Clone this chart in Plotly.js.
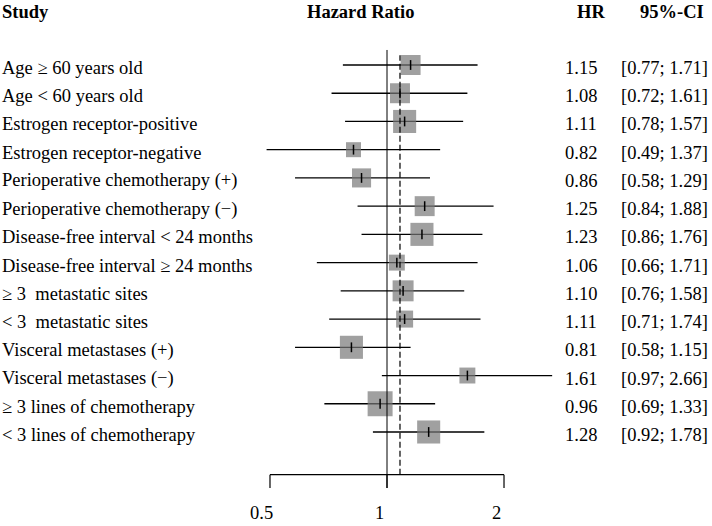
<!DOCTYPE html>
<html>
<head>
<meta charset="utf-8">
<script src="https://cdn.plot.ly/plotly-3.0.1.min.js"></script>
<style>
  html, body { margin: 0; padding: 0; background: #fff; }
  #chart { width: 712px; height: 526px; }
</style>
</head>
<body>
<div id="chart"></div>
<script>
// subgroups, top to bottom
var studies = [
  'Age \u2265 60 years old',
  'Age &lt; 60 years old',
  'Estrogen receptor-positive',
  'Estrogen receptor-negative',
  'Perioperative chemotherapy (+)',
  'Perioperative chemotherapy (\u2212)',
  'Disease-free interval &lt; 24 months',
  'Disease-free interval \u2265 24 months',
  '\u2265 3\u00a0 metastatic sites',
  '&lt; 3\u00a0 metastatic sites',
  'Visceral metastases (+)',
  'Visceral metastases (\u2212)',
  '\u2265 3 lines of chemotherapy',
  '&lt; 3 lines of chemotherapy'
];
var hr    = [1.15, 1.08, 1.11, 0.82, 0.86, 1.25, 1.23, 1.06, 1.10, 1.11, 0.81, 1.61, 0.96, 1.28];
var ciLow = [0.77, 0.72, 0.78, 0.49, 0.58, 0.84, 0.86, 0.66, 0.76, 0.71, 0.58, 0.97, 0.69, 0.92];
var ciUp  = [1.71, 1.61, 1.57, 1.37, 1.29, 1.88, 1.76, 1.71, 1.58, 1.74, 1.15, 2.66, 1.33, 1.78];
// relative weights (%)
var weights = [6.9, 6.9, 9.2, 3.9, 6.3, 6.9, 9.2, 4.4, 7.6, 5.0, 9.2, 4.4, 10.8, 9.2];
var pooledHR = 1.08;
var tickVals = [0.5, 1, 2];
var tickText = ['0.5', '1', '2'];

var FONT = 'Liberation Serif, Times New Roman, serif';
var rows = studies.map(function (s, i) { return i + 1; });

// CI whiskers
var ciX = [], ciY = [];
for (var i = 0; i < hr.length; i++) {
  ciX.push(ciLow[i], ciUp[i], null);
  ciY.push(rows[i], rows[i], null);
}

var traces = [
  {
    x: ciX, y: ciY, mode: 'lines', type: 'scatter', hoverinfo: 'skip',
    line: { color: '#000', width: 1.3 }, showlegend: false
  },
  {
    x: hr, y: rows, mode: 'markers', type: 'scatter',
    marker: {
      symbol: 'square',
      color: '#777777',
      size: weights.map(function (w) { return Math.sqrt(w) * 7.6; }),
      line: { width: 0 }
    },
    showlegend: false
  },
  {
    x: hr, y: rows, mode: 'markers', type: 'scatter', hoverinfo: 'skip',
    marker: { symbol: 'line-ns-open', size: 7, color: '#000', line: { color: '#000', width: 1.5 } },
    showlegend: false
  }
];

var axisY = 0.0975;   // paper position of the bottom axis line
var shapes = [
  // reference line at 1
  { type: 'line', xref: 'x', yref: 'paper', x0: 1, x1: 1, y0: 0.0722, y1: 0.905,
    line: { color: '#000', width: 1 } },
  // pooled estimate
  { type: 'line', xref: 'x', yref: 'paper', x0: pooledHR, x1: pooledHR, y0: axisY, y1: 0.895,
    line: { color: '#000', width: 1.2, dash: '6px,3px' } },
  // axis line
  { type: 'line', xref: 'x', yref: 'paper', x0: tickVals[0], x1: tickVals[tickVals.length - 1],
    y0: axisY, y1: axisY, line: { color: '#000', width: 1.2 } }
];
tickVals.forEach(function (t) {
  shapes.push({ type: 'line', xref: 'x', yref: 'paper', x0: t, x1: t, y0: axisY, y1: 0.0722,
    line: { color: '#000', width: 1.2 } });
});

var annotations = [];
function txt(x, xref, y, yref, text, anchor, extra) {
  var a = { x: x, xref: xref, y: y, yref: yref, text: text, showarrow: false,
    xanchor: anchor, yanchor: 'middle', font: { family: FONT, size: 18.5, color: '#000' } };
  for (var k in extra) a[k] = extra[k];
  annotations.push(a);
}

// headers
txt(0.0, 'paper', 0.977, 'paper', '<b>Study</b>', 'left');
txt(0.506, 'paper', 0.977, 'paper', '<b>Hazard Ratio</b>', 'center');
txt(0.853, 'paper', 0.977, 'paper', '<b>HR</b>', 'right');
txt(0.992, 'paper', 0.977, 'paper', '<b>95%-CI</b>', 'right');

for (var j = 0; j < studies.length; j++) {
  txt(0.0, 'paper', rows[j], 'y', studies[j], 'left', { yshift: -3 });
  txt(0.841, 'paper', rows[j], 'y', hr[j].toFixed(2), 'right', { yshift: -3 });
  txt(0.997, 'paper', rows[j], 'y',
      '[' + ciLow[j].toFixed(2) + '; ' + ciUp[j].toFixed(2) + ']', 'right', { yshift: -3 });
}
// annotations on a log axis take log10 positions
tickVals.forEach(function (t, k) {
  txt(Math.log10(t), 'x', 0.024, 'paper', tickText[k], 'center', { xshift: -8 });
});

var layout = {
  width: 712, height: 526,
  margin: { l: 0, r: 0, t: 0, b: 0 },
  paper_bgcolor: '#fff', plot_bgcolor: '#fff',
  xaxis: { type: 'log', range: [-0.9956, 0.8361], visible: false, fixedrange: true },
  yaxis: { range: [17.33, -1.3025], visible: false, fixedrange: true },
  shapes: shapes,
  annotations: annotations,
  showlegend: false
};

Plotly.newPlot('chart', traces, layout, { displayModeBar: false, staticPlot: true });
</script>
</body>
</html>
